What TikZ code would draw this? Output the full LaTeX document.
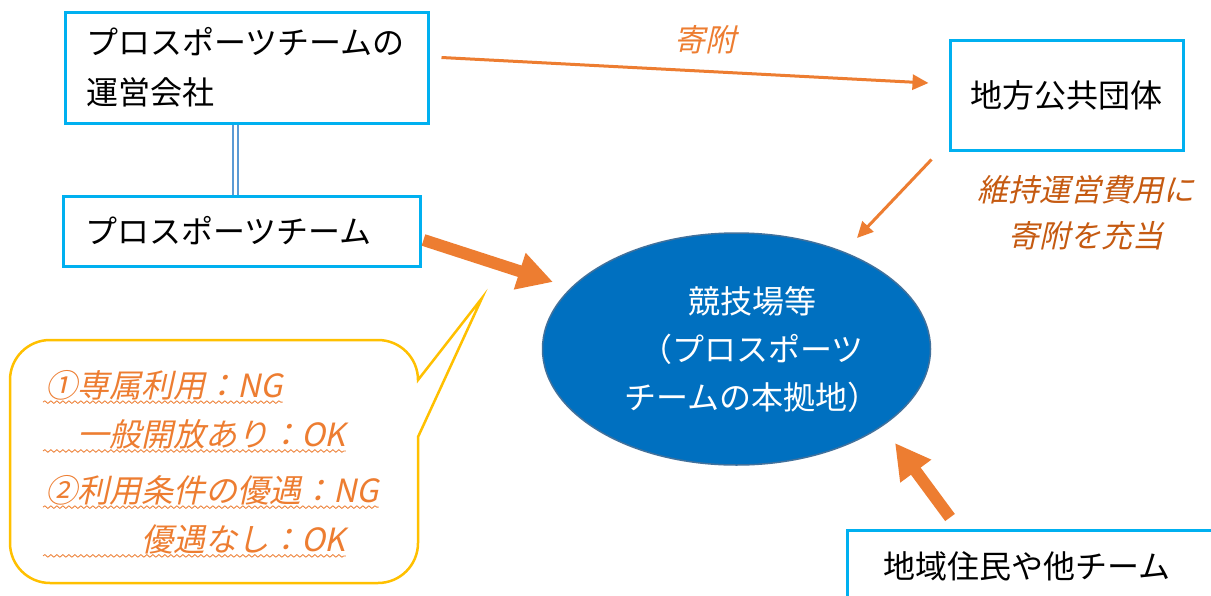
\documentclass[tikz,border=0pt]{standalone}
\usepackage{fontspec}
\setmainfont{Noto Sans CJK JP}
\newfontfamily\jpit[FakeSlant=0.22]{Noto Sans CJK JP}
\usetikzlibrary{arrows.meta,shapes.geometric,decorations.pathmorphing}
\definecolor{boxblue}{HTML}{00B0F0}
\definecolor{orng}{HTML}{ED7D31}
\definecolor{dkorng}{HTML}{C55A11}
\definecolor{ellfill}{HTML}{0070C0}
\definecolor{ellline}{HTML}{41719C}
\definecolor{dblblue}{HTML}{5B9BD5}
\definecolor{calloutc}{HTML}{FFC000}
\begin{document}
\begin{tikzpicture}[x=1pt,y=-1pt,
  box/.style={draw=boxblue,line width=3pt,rectangle,inner sep=0pt,font=\fontsize{32}{50}\selectfont},
  ell/.style={ellipse,draw=ellline,line width=1.5pt,fill=ellfill,inner sep=0pt,minimum width=388pt,minimum height=232pt},
  etext/.style={text=white,align=center,font=\fontsize{32}{48}\selectfont},
  itlabel/.style={align=center,font=\jpit\fontsize{31}{46}\selectfont},
  thinarrow/.style={draw=orng,line width=3pt,-{Triangle[length=16pt,width=15pt]}},
  thickarrow/.style={draw=orng,line width=12pt,-{Triangle[length=35pt,width=36pt]}},
  dbl/.style={draw=dblblue,double=white,double distance=3pt,line width=2pt},
  callout/.style={draw=calloutc,line width=2.5pt,fill=white},
  ctext/.style={anchor=west,inner sep=0pt,text=orng,font=\jpit\fontsize{32}{40}\selectfont},
  wavy/.style={draw=orng,line width=0.8pt,decorate,decoration={snake,segment length=6pt,amplitude=1.3pt}}
]
\useasboundingbox (0,0) rectangle (1211,595);
\fill[white] (0,0) rectangle (1211,595);
\clip (0,0) rectangle (1211,595);

% boxes
\node[box,minimum width=363pt,minimum height=111pt,text width=321pt,align=left] (b1) at (246.5,67.5) {プロスポーツチームの\\運営会社};
\node[box,minimum width=357pt,minimum height=70pt,text width=313pt,align=left] (b2) at (241.5,231) {プロスポーツチーム};
\node[box,minimum width=233pt,minimum height=110pt,align=center] (b3) at (1066.5,95) {地方公共団体};
\node[box,minimum width=383pt,minimum height=72pt,text width=311pt,align=left] (b4) at (1038.5,566) {地域住民や他チーム};

% ellipse
\node[ell] (e) at (736.5,349) {};
\node[etext] (et) at (752,350) {競技場等\\（プロスポーツ\\チームの本拠地）};

% double line
\draw[dbl] ([xshift=-11.5pt]b1.south) -- ([xshift=-11.5pt]b1.south |- b2.north);

% donation arrow
\draw[thinarrow] ([shift={(12,-10)}]b1.east) -- ([shift={(-20,-12)}]b3.west);
\node[itlabel,text=orng] (l1) at (705,40) {寄附};

% maintenance arrow
\draw[thinarrow] ([shift={(-17,8)}]b3.south west) -- ([shift={(120.5,-111)}]e.center);
\node[itlabel,text=dkorng] (l2) at (1086,213) {維持運営費用に\\寄附を充当};

% thick arrows
\draw[thickarrow] ([shift={(2,9)}]b2.east) -- ([shift={(-183.5,-67)}]e.center);
\draw[thickarrow] ([shift={(-88.5,-11)}]b4.north) -- ([shift={(158.5,94)}]e.center);

% callout
\draw[callout] (50,340) -- (378,340) arc[start angle=90,end angle=0,radius=40pt]
  -- (482,298) -- (418,437) -- (418,543) arc[start angle=0,end angle=-90,radius=40pt]
  -- (50,583) arc[start angle=270,end angle=180,radius=40pt]
  -- (10,380) arc[start angle=180,end angle=90,radius=40pt] -- cycle;

\node[ctext] (c1) at (45,385) {①専属利用：NG};
\node[ctext] (c2) at (45,434) {　一般開放あり：OK};
\node[ctext] (c3) at (45,490) {②利用条件の優遇：NG};
\node[ctext] (c4) at (45,539) {　　　優遇なし：OK};
\foreach \c in {c1,c2,c3,c4}{
  \draw[wavy] ([shift={(-2,2)}]\c.south west) -- ([shift={(0,2)}]\c.south east);
}
\end{tikzpicture}
\end{document}
